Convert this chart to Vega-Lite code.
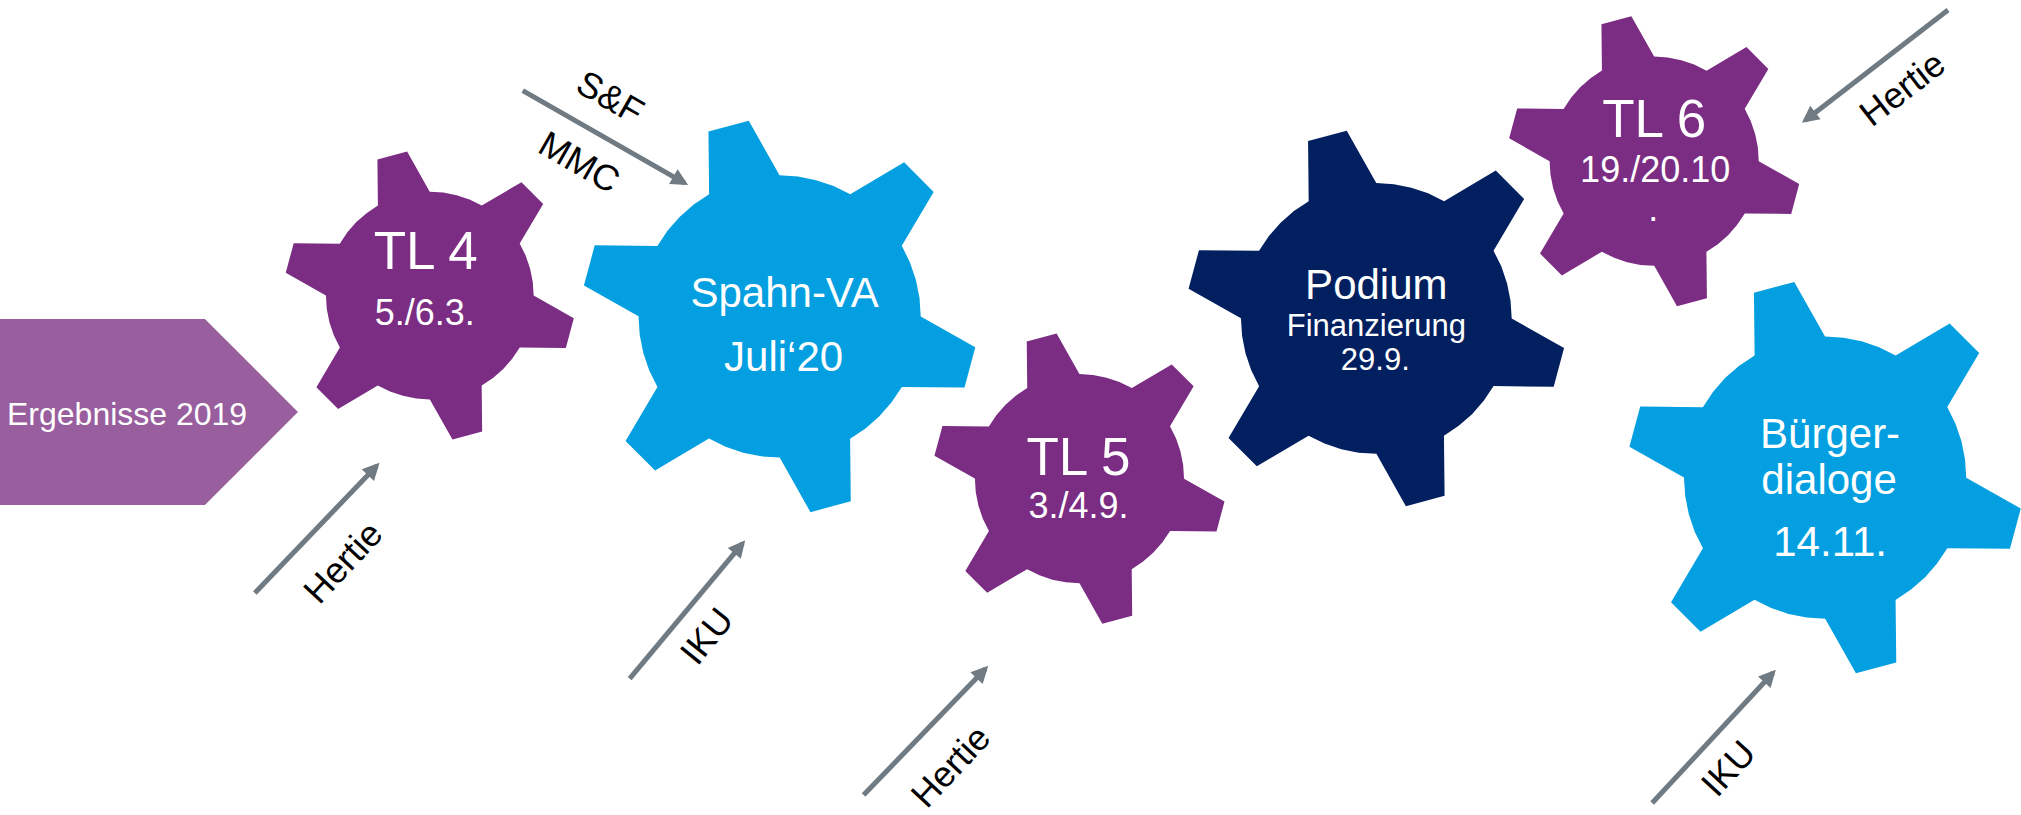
{
  "$schema": "https://vega.github.io/schema/vega-lite/v6.json",
  "width": 2021,
  "height": 815,
  "autosize": {"type": "fit", "contains": "padding"},
  "padding": 0,
  "background": "white",
  "config": {"view": {"stroke": null}, "text": {"font": "Liberation Sans"}},
  "datasets": {
    "source": [{"name": "Ergebnisse 2019", "x": 149, "y": 414, "r": 149}],
    "gears": [
      {"name": "TL 4", "kind": "Transferlabor", "x": 430, "y": 297, "r": 145},
      {"name": "Spahn-VA", "kind": "Veranstaltung", "x": 780, "y": 318, "r": 197},
      {"name": "TL 5", "kind": "Transferlabor", "x": 1080, "y": 481, "r": 146},
      {"name": "Podium", "kind": "Podium", "x": 1377, "y": 320, "r": 189},
      {"name": "TL 6", "kind": "Transferlabor", "x": 1655, "y": 162, "r": 146},
      {"name": "Bürgerdialoge", "kind": "Veranstaltung", "x": 1826, "y": 480, "r": 197}
    ],
    "arrows": [
      {"from": "Hertie", "to": "TL 4", "x": 255, "y": 596, "x2": 377, "y2": 468, "heading": 43.6},
      {"from": "IKU", "to": "Spahn-VA", "x": 630, "y": 682, "x2": 743, "y2": 546, "heading": 39.7},
      {"from": "Hertie", "to": "TL 5", "x": 864, "y": 799, "x2": 986, "y2": 672, "heading": 43.8},
      {"from": "IKU", "to": "Bürgerdialoge", "x": 1653, "y": 807, "x2": 1774, "y2": 676, "heading": 42.7},
      {"from": "Hertie", "to": "TL 6", "x": 1949, "y": 10, "x2": 1806, "y2": 121, "heading": 232.2},
      {"from": "S&F / MMC", "to": "Spahn-VA", "x": 523, "y": 91, "x2": 685, "y2": 184, "heading": 119.9}
    ],
    "arrowLabels": [
      {"text": "Hertie", "x": 344, "y": 566, "angle": -47},
      {"text": "IKU", "x": 708, "y": 640, "angle": -51},
      {"text": "Hertie", "x": 952, "y": 771, "angle": -47},
      {"text": "IKU", "x": 1730, "y": 773, "angle": -47.3},
      {"text": "Hertie", "x": 1904, "y": 90, "angle": -37.8},
      {"text": "S&F", "x": 610, "y": 99, "angle": 29.9},
      {"text": "MMC", "x": 579, "y": 164, "angle": 29.9}
    ],
    "labels": [
      {"text": "Ergebnisse 2019", "role": "source", "x": 7, "y": 427},
      {"text": "TL 4", "role": "title", "x": 426, "y": 270},
      {"text": "5./6.3.", "role": "date", "x": 425, "y": 327},
      {"text": "Spahn-VA", "role": "name", "x": 785, "y": 309},
      {"text": "Juli‘20", "role": "name", "x": 784, "y": 373},
      {"text": "TL 5", "role": "title", "x": 1079, "y": 477},
      {"text": "3./4.9.", "role": "date", "x": 1079, "y": 521},
      {"text": "Podium", "role": "name", "x": 1377, "y": 300},
      {"text": "Finanzierung", "role": "note", "x": 1377, "y": 338},
      {"text": "29.9.", "role": "note", "x": 1376, "y": 372},
      {"text": "TL 6", "role": "title", "x": 1655, "y": 138},
      {"text": "19./20.10", "role": "date", "x": 1656, "y": 183},
      {"text": ".", "role": "date", "x": 1654, "y": 222},
      {"text": "Bürger-", "role": "name", "x": 1831, "y": 450},
      {"text": "dialoge", "role": "name", "x": 1830, "y": 496},
      {"text": "14.11.", "role": "name", "x": 1831, "y": 559}
    ]
  },
  "encoding": {
    "x": {"field": "x", "type": "quantitative", "scale": {"domain": [0, 2021], "nice": false, "zero": false}, "axis": null},
    "y": {"field": "y", "type": "quantitative", "scale": {"domain": [0, 815], "nice": false, "zero": false, "reverse": true}, "axis": null}
  },
  "layer": [
    {
      "data": {"name": "source"},
      "mark": {"type": "point", "filled": true, "opacity": 1, "color": "#985E9E", "strokeWidth": 0,
        "shape": "M -1 -0.624 L 0.376 -0.624 L 1 0 L 0.376 0.624 L -1 0.624 Z"},
      "encoding": {
        "size": {"field": "r", "type": "quantitative", "scale": {"type": "pow", "exponent": 2, "domain": [0, 200], "range": [0, 160000]}, "legend": null}
      }
    },
    {
      "data": {"name": "gears"},
      "mark": {"type": "point", "filled": true, "opacity": 1, "strokeWidth": 0, "angle": -15,
        "shape": "M -0.185 -0.692 L -0.106 -1 L 0.106 -1 L 0.185 -0.692 L 0.2741 -0.6618 L 0.3582 -0.6203 L 0.4361 -0.5683 L 0.5068 -0.5062 L 0.813 -0.5918 L 0.919 -0.4082 L 0.6918 -0.1858 L 0.7102 -0.0935 L 0.7163 0 L 0.7102 0.0935 L 0.6918 0.1858 L 0.919 0.4082 L 0.813 0.5918 L 0.5068 0.5062 L 0.4361 0.5683 L 0.3582 0.6203 L 0.2741 0.6618 L 0.185 0.692 L 0.106 1 L -0.106 1 L -0.185 0.692 L -0.2741 0.6618 L -0.3582 0.6203 L -0.4361 0.5683 L -0.5068 0.5062 L -0.813 0.5918 L -0.919 0.4082 L -0.6918 0.1858 L -0.7102 0.0935 L -0.7163 0 L -0.7102 -0.0935 L -0.6918 -0.1858 L -0.919 -0.4082 L -0.813 -0.5918 L -0.5068 -0.5062 L -0.4361 -0.5683 L -0.3582 -0.6203 L -0.2741 -0.6618 Z"},
      "encoding": {
        "size": {"field": "r", "type": "quantitative", "scale": {"type": "pow", "exponent": 2, "domain": [0, 200], "range": [0, 160000]}, "legend": null},
        "color": {"field": "kind", "type": "nominal", "scale": {"domain": ["Transferlabor", "Veranstaltung", "Podium"], "range": ["#7B2C83", "#049FE0", "#022060"]}, "legend": null}
      }
    },
    {
      "data": {"name": "arrows"},
      "mark": {"type": "rule", "color": "#6F7A82", "strokeWidth": 5},
      "encoding": {
        "x2": {"field": "x2"},
        "y2": {"field": "y2"}
      }
    },
    {
      "data": {"name": "arrows"},
      "mark": {"type": "point", "filled": true, "opacity": 1, "color": "#6F7A82", "strokeWidth": 0, "size": 400,
        "shape": "M 0 -0.4 L 0.85 1.3 L -0.85 1.3 Z"},
      "encoding": {
        "x": {"field": "x2", "type": "quantitative"},
        "y": {"field": "y2", "type": "quantitative"},
        "angle": {"field": "heading", "type": "quantitative", "scale": null}
      }
    },
    {
      "data": {"name": "arrowLabels"},
      "mark": {"type": "text", "fontSize": 36, "color": "#000000", "align": "center", "baseline": "middle", "font": "Liberation Sans"},
      "encoding": {
        "text": {"field": "text"},
        "angle": {"field": "angle", "type": "quantitative", "scale": null}
      }
    },
    {
      "data": {"name": "labels"},
      "transform": [{"filter": "datum.role == 'source'"}],
      "mark": {"type": "text", "fontSize": 32, "color": "white", "align": "left", "baseline": "alphabetic", "font": "Liberation Sans"},
      "encoding": {"text": {"field": "text"}}
    },
    {
      "data": {"name": "labels"},
      "transform": [{"filter": "datum.role == 'title'"}],
      "mark": {"type": "text", "fontSize": 53, "color": "white", "align": "center", "baseline": "alphabetic", "font": "Liberation Sans"},
      "encoding": {"text": {"field": "text"}}
    },
    {
      "data": {"name": "labels"},
      "transform": [{"filter": "datum.role == 'name'"}],
      "mark": {"type": "text", "fontSize": 42, "color": "white", "align": "center", "baseline": "alphabetic", "font": "Liberation Sans"},
      "encoding": {"text": {"field": "text"}}
    },
    {
      "data": {"name": "labels"},
      "transform": [{"filter": "datum.role == 'date'"}],
      "mark": {"type": "text", "fontSize": 36, "color": "white", "align": "center", "baseline": "alphabetic", "font": "Liberation Sans"},
      "encoding": {"text": {"field": "text"}}
    },
    {
      "data": {"name": "labels"},
      "transform": [{"filter": "datum.role == 'note'"}],
      "mark": {"type": "text", "fontSize": 31, "color": "white", "align": "center", "baseline": "alphabetic", "font": "Liberation Sans"},
      "encoding": {"text": {"field": "text"}}
    }
  ]
}
